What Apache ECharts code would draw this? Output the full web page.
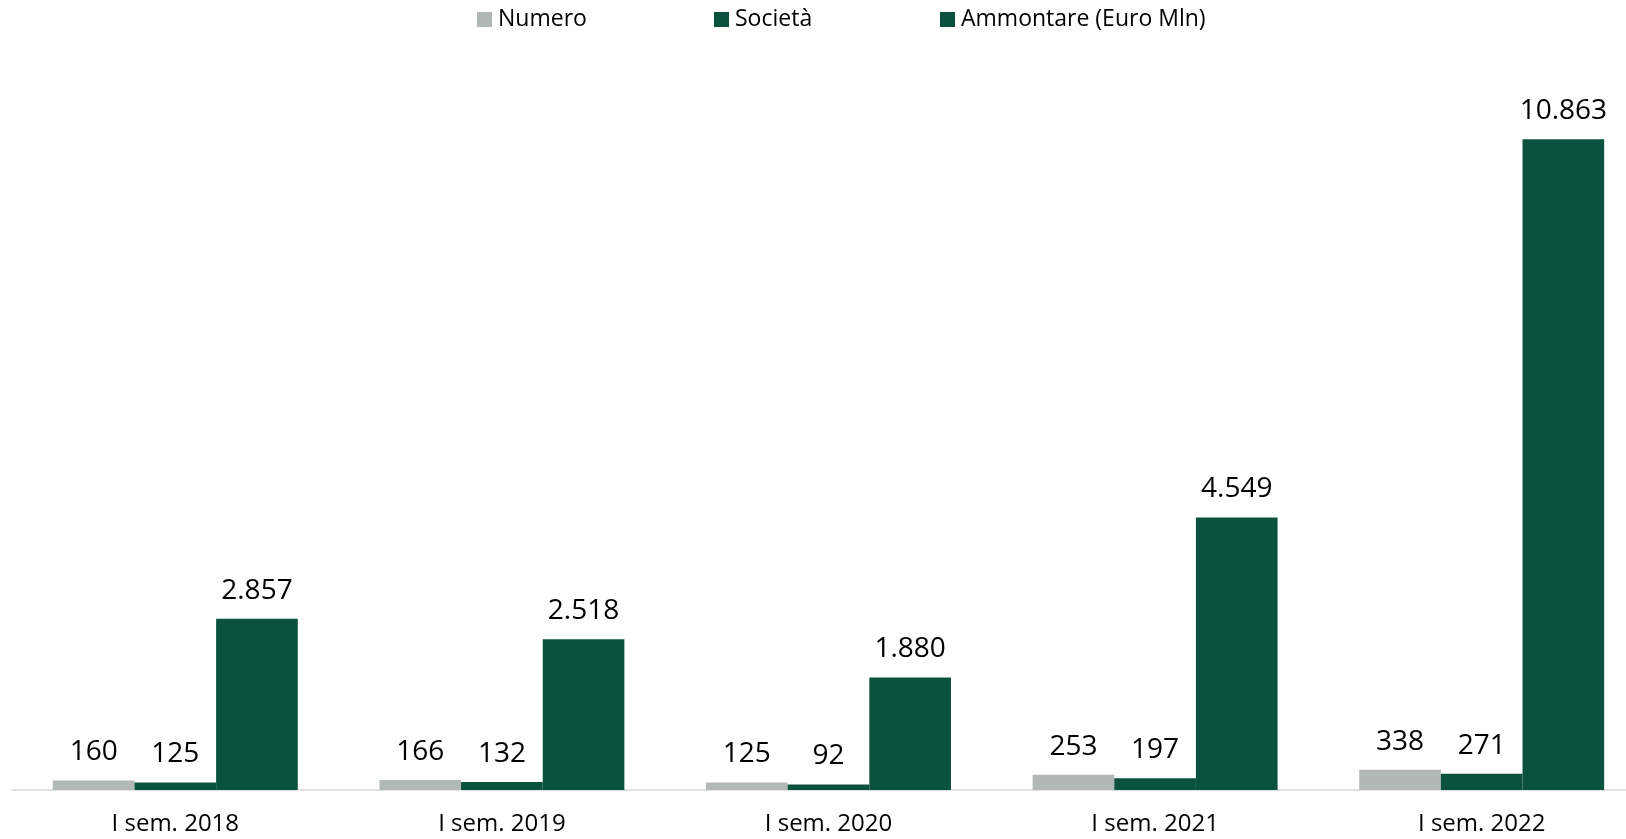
<!DOCTYPE html>
<html>
<head>
<meta charset="utf-8">
<script src="https://cdn.jsdelivr.net/npm/echarts@6/dist/echarts.min.js"></script>
<style>
html,body{margin:0;padding:0;background:#fff;}
#chart{width:1626px;height:839px;}
</style>
</head>
<body>
<div id="chart"></div>
<script>
const categories = ['I sem. 2018', 'I sem. 2019', 'I sem. 2020', 'I sem. 2021', 'I sem. 2022'];
const numero = [160, 166, 125, 253, 338];
const societa = [125, 132, 92, 197, 271];
const ammontare = [2857, 2518, 1880, 4549, 10863];
const seriesNames = ['Numero', 'Società', 'Ammontare (Euro Mln)'];

const GRAY = '#B2B8B5';
const GREEN = '#0B523E';
const FONT = '"Open Sans", "Liberation Sans", sans-serif';

function itFormat(v) {
  return String(v).replace(/\B(?=(\d{3})+(?!\d))/g, '.');
}

const labelCfg = {
  show: true,
  position: 'top',
  distance: 14,
  color: '#000',
  fontSize: 28,
  fontFamily: FONT,
  formatter: p => itFormat(p.value)
};

const legendLefts = [472, 709, 935];
const legends = seriesNames.map((n, i) => ({
  left: legendLefts[i],
  top: 3,
  itemWidth: 15,
  itemHeight: 15,
  itemGap: 0,
  icon: 'rect',
  textStyle: {fontSize: 23, fontFamily: FONT, color: '#000', padding: [0, 0, 0, 1]},
  data: [n]
}));

const chart = echarts.init(document.getElementById('chart'), null, {renderer: 'canvas'});
chart.setOption({
  animation: false,
  backgroundColor: '#fff',
  legend: legends,
  grid: {
    left: 12,
    top: 71.2,
    width: 1633,
    height: 718.8,
    containLabel: false,
    outerBoundsMode: 'none'
  },
  xAxis: {
    type: 'category',
    data: categories,
    axisLine: {show: true, lineStyle: {color: '#D9D9D9', width: 1.5}},
    axisTick: {show: false},
    axisLabel: {fontSize: 24, fontFamily: FONT, color: '#000', margin: 22}
  },
  yAxis: {
    type: 'value',
    min: 0,
    max: 12000,
    show: false,
    splitLine: {show: false}
  },
  series: [
    {name: seriesNames[0], type: 'bar', data: numero, itemStyle: {color: GRAY}, barGap: '0%', barCategoryGap: '25%', label: labelCfg},
    {name: seriesNames[1], type: 'bar', data: societa, itemStyle: {color: GREEN}, barGap: '0%', barCategoryGap: '25%', label: labelCfg},
    {name: seriesNames[2], type: 'bar', data: ammontare, itemStyle: {color: GREEN}, barGap: '0%', barCategoryGap: '25%', label: labelCfg}
  ]
});
</script>
</body>
</html>
